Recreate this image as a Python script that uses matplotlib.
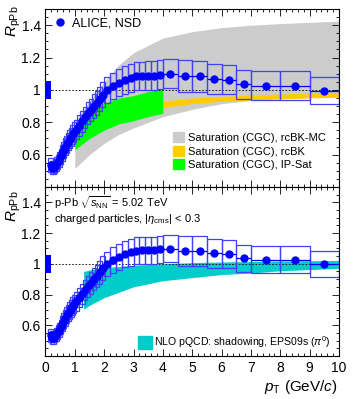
import numpy as np
import matplotlib
matplotlib.use("Agg")
import matplotlib.pyplot as plt
from matplotlib.patches import Rectangle, Patch
from matplotlib.lines import Line2D
from matplotlib.ticker import MultipleLocator

plt.rcParams['font.family'] = ['Liberation Sans', 'DejaVu Sans']
plt.rcParams['mathtext.fontset'] = 'custom'
plt.rcParams['mathtext.rm'] = 'Liberation Sans'
plt.rcParams['mathtext.it'] = 'Liberation Sans:italic'
plt.rcParams['mathtext.bf'] = 'Liberation Sans:bold'

# ALICE data: bin edges, RpPb, systematic uncertainty
pt_lo = [0.15, 0.2, 0.25, 0.3, 0.35, 0.4, 0.45, 0.5, 0.55, 0.6, 0.65, 0.7, 0.75, 0.8, 0.85, 0.9, 0.95,
         1.0, 1.1, 1.2, 1.3, 1.4, 1.5, 1.6, 1.7, 1.8, 1.9,
         2.0, 2.2, 2.4, 2.6, 2.8, 3.0, 3.2, 3.4, 3.6, 3.8,
         4.0, 4.5, 5.0, 5.5, 6.0, 6.5, 7.0, 8.0, 9.0]
pt_hi = [0.2, 0.25, 0.3, 0.35, 0.4, 0.45, 0.5, 0.55, 0.6, 0.65, 0.7, 0.75, 0.8, 0.85, 0.9, 0.95, 1.0,
         1.1, 1.2, 1.3, 1.4, 1.5, 1.6, 1.7, 1.8, 1.9, 2.0,
         2.2, 2.4, 2.6, 2.8, 3.0, 3.2, 3.4, 3.6, 3.8, 4.0,
         4.5, 5.0, 5.5, 6.0, 6.5, 7.0, 8.0, 9.0, 10.0]
rppb = [0.535, 0.52, 0.52, 0.53, 0.54, 0.555, 0.57, 0.59, 0.61, 0.63, 0.65, 0.665, 0.68, 0.695, 0.71, 0.725, 0.74,
        0.755, 0.78, 0.805, 0.83, 0.855, 0.875, 0.9, 0.92, 0.945, 0.97,
        1.0, 1.025, 1.045, 1.062, 1.074, 1.085, 1.088, 1.089, 1.089, 1.095,
        1.099, 1.085, 1.083, 1.068, 1.064, 1.035, 1.027, 1.027, 0.996]
rppb_sys = [0.043, 0.042, 0.042, 0.042, 0.043, 0.044, 0.046, 0.047, 0.049, 0.05, 0.052, 0.053, 0.054, 0.056, 0.057, 0.058, 0.059,
            0.06, 0.062, 0.064, 0.066, 0.068, 0.07, 0.072, 0.074, 0.076, 0.078,
            0.08, 0.082, 0.084, 0.085, 0.086, 0.087, 0.087, 0.087, 0.087, 0.088,
            0.09, 0.097, 0.095, 0.093, 0.09, 0.09, 0.088, 0.088, 0.085]
norm_unc = 0.058

# Saturation (CGC), rcBK-MC
mc_pt = [1.0, 1.5, 2.0, 2.5, 3.0, 4.0, 5.0, 6.0, 7.0, 8.0, 10.0]
mc_lo = [0.515, 0.6, 0.67, 0.725, 0.765, 0.835, 0.88, 0.915, 0.935, 0.95, 0.965]
mc_hi = [0.8, 0.93, 1.05, 1.155, 1.23, 1.32, 1.36, 1.385, 1.40, 1.41, 1.425]
# Saturation (CGC), rcBK
bk_pt = [1.0, 1.5, 2.0, 3.0, 4.0, 5.0, 6.0, 8.0, 10.0]
bk_lo = [0.70, 0.765, 0.805, 0.855, 0.89, 0.915, 0.93, 0.945, 0.955]
bk_hi = [0.755, 0.81, 0.845, 0.895, 0.93, 0.95, 0.96, 0.975, 0.985]
# Saturation (CGC), IP-Sat
ips_pt = [1.0, 1.5, 2.0, 2.5, 3.0, 3.5, 4.0]
ips_lo = [0.63, 0.70, 0.752, 0.79, 0.81, 0.835, 0.856]
ips_hi = [0.77, 0.86, 0.918, 0.95, 0.965, 0.99, 1.01]
# NLO pQCD EPS09s
eps_pt = [1.3, 1.5, 2.0, 3.0, 4.0, 5.0, 6.0, 7.0, 8.0, 10.0]
eps_lo = [0.705, 0.73, 0.78, 0.85, 0.89, 0.91, 0.93, 0.94, 0.955, 0.97]
eps_hi = [0.95, 0.96, 0.975, 0.99, 1.0, 1.008, 1.012, 1.015, 1.018, 1.022]

pt_lo = np.array(pt_lo)
pt_hi = np.array(pt_hi)
pt = 0.5 * (pt_lo + pt_hi)
xerr = 0.5 * (pt_hi - pt_lo)
box_w = np.maximum(pt_hi - pt_lo, 0.16)

fig = plt.figure(figsize=(3.54, 3.99), dpi=100)
ax1 = fig.add_axes([0.1285, 0.5313, 0.8291, 0.4461])
ax2 = fig.add_axes([0.1285, 0.1078, 0.8291, 0.4235])


def draw_data(ax):
    for x, y, s, w in zip(pt, rppb, rppb_sys, box_w):
        ax.add_patch(Rectangle((x - w / 2, y - s), w, 2 * s, fill=False,
                               edgecolor=(0.25, 0.25, 1.0), lw=0.9, zorder=4))
    ax.errorbar(pt, rppb, xerr=xerr, fmt='o', color='#0000ff', ms=5,
                elinewidth=0.9, capsize=0, zorder=5)
    ax.add_patch(Rectangle((0, 1 - norm_unc), 0.2, 2 * norm_unc, color='#0000ff', lw=0, zorder=5))
    ax.axhline(1, color='black', ls=(0, (2, 2)), lw=0.6, zorder=3)


def style(ax):
    ax.set_xlim(0, 10)
    ax.set_ylim(0.4, 1.5)
    ax.xaxis.set_major_locator(MultipleLocator(1))
    ax.xaxis.set_minor_locator(MultipleLocator(0.2))
    ax.yaxis.set_major_locator(MultipleLocator(0.2))
    ax.yaxis.set_minor_locator(MultipleLocator(0.05))
    ax.tick_params(which='both', direction='in', top=True, right=True, labelsize=10)
    ax.tick_params(which='major', length=5, width=0.6)
    ax.tick_params(which='minor', length=2.5, width=0.6)
    ax.set_yticks([0.6, 0.8, 1.0, 1.2, 1.4])
    ax.set_yticklabels(['0.6', '0.8', '1', '1.2', '1.4'])
    for sp in ax.spines.values():
        sp.set_linewidth(0.8)


# top panel
ax1.fill_between(mc_pt, mc_lo, mc_hi, color='#cccccc', lw=0, zorder=1)
ax1.fill_between(bk_pt, bk_lo, bk_hi, color='#ffcc00', lw=0, zorder=2)
ax1.fill_between(ips_pt, ips_lo, ips_hi, color='#00ff00', lw=0, zorder=2)
draw_data(ax1)
style(ax1)
ax1.tick_params(labelbottom=False)

h_alice = Line2D([], [], marker='o', color='#0000ff', ls='none', ms=5)
leg = ax1.legend([h_alice], ['ALICE, NSD'], loc='upper left', bbox_to_anchor=(0.0, 1.0),
                 frameon=False, fontsize=9, handlelength=1.0, handletextpad=0.4, borderaxespad=0.3)
ax1.add_artist(leg)
h_models = [Patch(color='#cccccc'), Patch(color='#ffcc00'), Patch(color='#00ff00')]
ax1.legend(h_models, ['Saturation (CGC), rcBK-MC', 'Saturation (CGC), rcBK', 'Saturation (CGC), IP-Sat'],
           loc='lower left', bbox_to_anchor=(0.42, 0.07), frameon=False, fontsize=8,
           handlelength=1.0, handleheight=1.0, handletextpad=0.3, labelspacing=0.25, borderaxespad=0)

# bottom panel
ax2.fill_between(eps_pt, eps_lo, eps_hi, color='#00cccc', lw=0, zorder=1)
draw_data(ax2)
style(ax2)
ax2.legend([Patch(color='#00cccc')], [r'NLO pQCD: shadowing, EPS09s ($\pi^0$)'],
           loc='lower left', bbox_to_anchor=(0.295, 0.0), frameon=False, fontsize=7.6,
           handlelength=1.3, handleheight=1.5, handletextpad=0.2, borderaxespad=0.2)
ax2.text(0.03, 0.96, r'p-Pb $\sqrt{s_{\mathrm{NN}}}$ = 5.02 TeV', transform=ax2.transAxes,
         fontsize=8, va='top', ha='left')
ax2.text(0.03, 0.855, r'charged particles, $|\eta_{\mathrm{cms}}|$ < 0.3', transform=ax2.transAxes,
         fontsize=8, va='top', ha='left')

fig.text(14 / 354, 1 - 5 / 399, r'$R_{\mathrm{pPb}}$', rotation=90, ha='center', va='top', fontsize=11)
fig.text(14 / 354, 1 - 190 / 399, r'$R_{\mathrm{pPb}}$', rotation=90, ha='center', va='top', fontsize=11)
fig.text(338 / 354, 1 - 387 / 399, r'$p_{\mathrm{T}}$ (GeV/$c$)', ha='right', va='center', fontsize=11)

fig.savefig('out.png', dpi=100)
